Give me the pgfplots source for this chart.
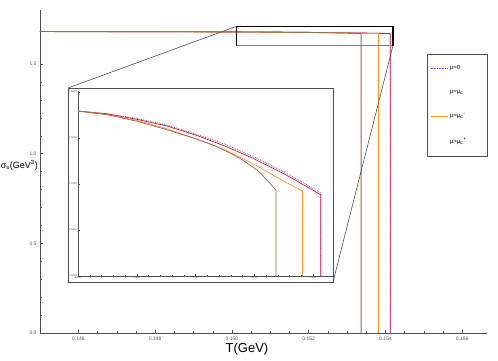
\documentclass[border=0pt]{standalone}
\usepackage{fontspec}
\setmainfont{Liberation Sans}
\usepackage{pgfplots}
\usepackage{pgfplotstable}
\pgfplotsset{compat=1.18}
\definecolor{muzero}{RGB}{90,90,255}
\definecolor{mured}{RGB}{230,20,45}
\definecolor{muorange}{RGB}{255,150,40}
\definecolor{mubrown}{RGB}{150,105,75}
\definecolor{axgray}{RGB}{80,80,80}

% sigma(T) for the four chemical potentials
\pgfplotstableread{
T s
0.1450 1.6800
0.1475 1.6795
0.1500 1.6779
0.1505 1.6776
0.1510 1.6771
0.1515 1.6764
0.1520 1.6754
0.1525 1.6743
0.1530 1.6729
0.1535 1.6713
0.1540 1.6695
0.15413 1.6690
0.15413 0
}\blueT
\pgfplotstableread{
T s
0.1450 1.6800
0.1475 1.6795
0.1500 1.6779
0.1505 1.6776
0.1510 1.6770
0.1515 1.6763
0.1520 1.6753
0.1525 1.6741
0.1530 1.6727
0.1535 1.6711
0.1540 1.6693
0.15413 1.6688
0.15413 0
}\redT
\pgfplotstableread{
T s
0.1450 1.6800
0.1475 1.6795
0.1500 1.6779
0.1505 1.6775
0.1510 1.6769
0.1515 1.6760
0.1520 1.6749
0.1525 1.6737
0.1530 1.6721
0.1535 1.6703
0.15382 1.6692
0.15382 0
}\orangeT
\pgfplotstableread{
T s
0.1450 1.6800
0.1475 1.6795
0.1500 1.6779
0.1505 1.6775
0.1510 1.6768
0.1515 1.6759
0.1520 1.6749
0.1523 1.6742
0.1526 1.6733
0.1528 1.6726
0.1530 1.6717
0.1531 1.6712
0.1532 1.6705
0.15337 1.6693
0.15337 0
}\brownT

\pgfplotsset{
  sigplots/.style={
    axis x line*=bottom, axis y line*=left,
    axis line style={-, axgray},
    tick align=inside, tick style={axgray},
    scaled ticks=false,
    /pgf/number format/assume math mode=true,
  },
}

\begin{document}
\begin{tikzpicture}
\useasboundingbox (0pt,0pt) rectangle (498pt,360pt);
\begin{axis}[
    sigplots,
    at={(40pt,27pt)}, anchor=south west,
    scale only axis, width=447pt, height=323pt,
    xmin=0.145, xmax=0.15665, ymin=0, ymax=1.80,
    axis line style={line width=0.6pt},
    xtick={0.146,0.148,0.150,0.152,0.154,0.156},
    ytick={0,0.5,1,1.5},
    minor x tick num=3, minor y tick num=4,
    major tick length=3pt, minor tick length=1.6pt,
    ticklabel style={font=\fontsize{5}{6}\selectfont, text=axgray},
    xticklabel style={/pgf/number format/.cd, fixed, fixed zerofill, precision=3},
    yticklabel style={/pgf/number format/.cd, fixed, fixed zerofill, precision=1},
    xlabel={T(GeV)},
    xlabel style={at={(axis description cs:0.463,0)}, anchor=north, inner sep=0pt,
        yshift=-10pt, font=\fontsize{13}{14}\selectfont},
    every axis y label/.style={at={(axis description cs:0,0.520)}, anchor=east,
        inner sep=0pt, xshift=-2pt, font=\fontsize{9}{11}\selectfont},
    ylabel={σ\textsubscript{s}(GeV\textsuperscript{3})},
    legend style={at={(rel axis cs:0.866,0.864)}, anchor=north west,
        draw=axgray, line width=0.5pt, font=\fontsize{6}{7}\selectfont,
        inner xsep=3pt, inner ysep=9pt, row sep=15pt},
    legend cell align=left,
    legend image code/.code={\draw[#1] (0pt,0pt) -- (17pt,0pt);},
]
\addplot[muzero, densely dotted, line width=0.8pt, forget plot] table {\blueT};
\addplot[mured, line width=0.8pt, forget plot] table {\redT};
\addplot[muorange, line width=0.9pt, forget plot] table {\orangeT};
\addplot[mubrown, line width=0.9pt, forget plot] table {\brownT};
\addlegendimage{muzero, densely dotted, line width=0.6pt}
\addlegendentry{\makebox[32pt][l]{μ=0}}
\addlegendimage{empty legend}
\addlegendentry{\makebox[32pt][l]{μ=μ\textsubscript{c}}}
\addlegendimage{muorange, line width=0.6pt}
\addlegendentry{\makebox[32pt][l]{μ=μ\textsubscript{c}\textsuperscript{-}}}
\addlegendimage{empty legend}
\addlegendentry{\makebox[32pt][l]{μ>μ\textsubscript{c}\textsuperscript{+}}}
% zoom window
\coordinate (zTL) at (axis cs:0.15012,1.709);
\coordinate (zBR) at (axis cs:0.1542,1.602);
\draw[black, line width=0.7pt] (axis cs:0.15012,1.709) -- (axis cs:0.1542,1.709);
\draw[gray, line width=0.7pt] (axis cs:0.15012,1.602) -- (axis cs:0.1542,1.602);
\draw[black, line width=1.6pt] (axis cs:0.15012,1.602) -- (axis cs:0.15012,1.709);
\draw[black, line width=1.6pt] (axis cs:0.1542,1.602) -- (axis cs:0.1542,1.709);
\end{axis}
\draw[axgray, line width=0.6pt] (zTL) -- (68pt,272pt);
\draw[axgray, line width=0.6pt] (zBR) -- (333pt,78pt);
\draw[axgray, fill=white, line width=0.8pt] (68pt,78pt) rectangle (333pt,272pt);
\begin{axis}[
    sigplots,
    at={(78pt,84pt)}, anchor=south west,
    scale only axis, width=255pt, height=185pt,
    xmin=0.150, xmax=0.15434, ymin=1.66, ymax=1.6801,
    axis line style={line width=0.4pt},
    xtick={0.150,0.151,0.152,0.153,0.154},
    ytick={1.660,1.665,1.670,1.675,1.680},
    minor x tick num=4, minor y tick num=4,
    major tick length=2pt, minor tick length=1pt,
    ticklabel style={font=\fontsize{2.6}{3}\selectfont, text=axgray, inner sep=1pt},
    xticklabel style={/pgf/number format/.cd, fixed, fixed zerofill, precision=3},
    yticklabel style={/pgf/number format/.cd, fixed, fixed zerofill, precision=4},
]
\addplot[muzero, densely dotted, line width=0.8pt] table {\blueT};
\addplot[mured, line width=0.7pt] table {\redT};
\addplot[muorange, line width=0.7pt] table {\orangeT};
\addplot[mubrown, line width=0.7pt] table {\brownT};
\end{axis}
\end{tikzpicture}
\end{document}
